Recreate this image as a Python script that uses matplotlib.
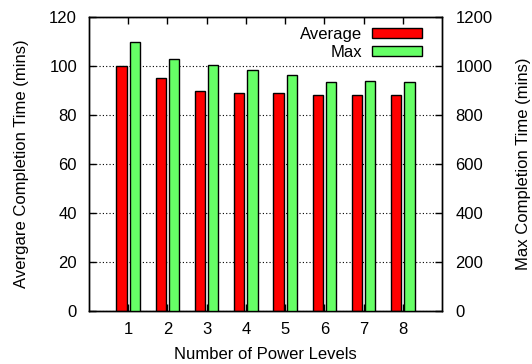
import numpy as np
import matplotlib
matplotlib.use("Agg")
import matplotlib.pyplot as plt

# data
levels = [1, 2, 3, 4, 5, 6, 7, 8]
avg_time = [100, 95, 90, 89, 89, 88, 88, 88]
max_time = [1100, 1030, 1005, 985, 962, 935, 937, 933]

plt.rcParams["font.family"] = ["Liberation Sans", "DejaVu Sans"]
plt.rcParams["font.size"] = 12

fig = plt.figure(figsize=(5.32, 3.64), dpi=100)
ax = fig.add_axes([0.167, 0.146, 0.664, 0.807])
ax2 = ax.twinx()

x = np.array(levels)
w = 0.26
off = 0.17
b1 = ax.bar(x - off, avg_time, w, color="#ff0000", edgecolor="black",
            linewidth=1.0, label="Average", zorder=3)
b2 = ax2.bar(x + off, max_time, w, color="#66ff66", edgecolor="black",
             linewidth=1.0, label="Max", zorder=3)

ax.set_xlim(0, 9)
ax.set_ylim(0, 120)
ax2.set_ylim(0, 1200)
ax.set_xticks(levels)
ax.set_yticks(np.arange(0, 121, 20))
ax2.set_yticks(np.arange(0, 1201, 200))

# dotted grid at the left-axis ticks
ax.set_axisbelow(True)
ax.yaxis.grid(True, linestyle=(0, (1, 2)), color="black", linewidth=0.8)

for a in (ax, ax2):
    for s in a.spines.values():
        s.set_linewidth(1.0)
ax.tick_params(axis="y", direction="in", length=5, width=1.0, pad=8.5,
               right=False)
ax.tick_params(axis="x", direction="in", length=5, width=1.0, pad=8,
               top=True)
ax2.tick_params(axis="y", direction="in", length=5, width=1.0, pad=9.5)

ax.set_xlabel("Number of Power Levels", labelpad=7)
ax.set_ylabel("Avergare Completion Time (mins)", labelpad=14.5)
ax2.set_ylabel("Max Completion Time (mins)", labelpad=17)

leg = ax2.legend([b1, b2], ["Average", "Max"], loc="upper right",
                 bbox_to_anchor=(0.9425, 0.967), frameon=False,
                 markerfirst=False, handlelength=3.0, handleheight=0.48,
                 labelspacing=0.19, handletextpad=0.6, borderaxespad=0,
                 borderpad=0, fontsize=12)

fig.savefig("out.png", dpi=100)
